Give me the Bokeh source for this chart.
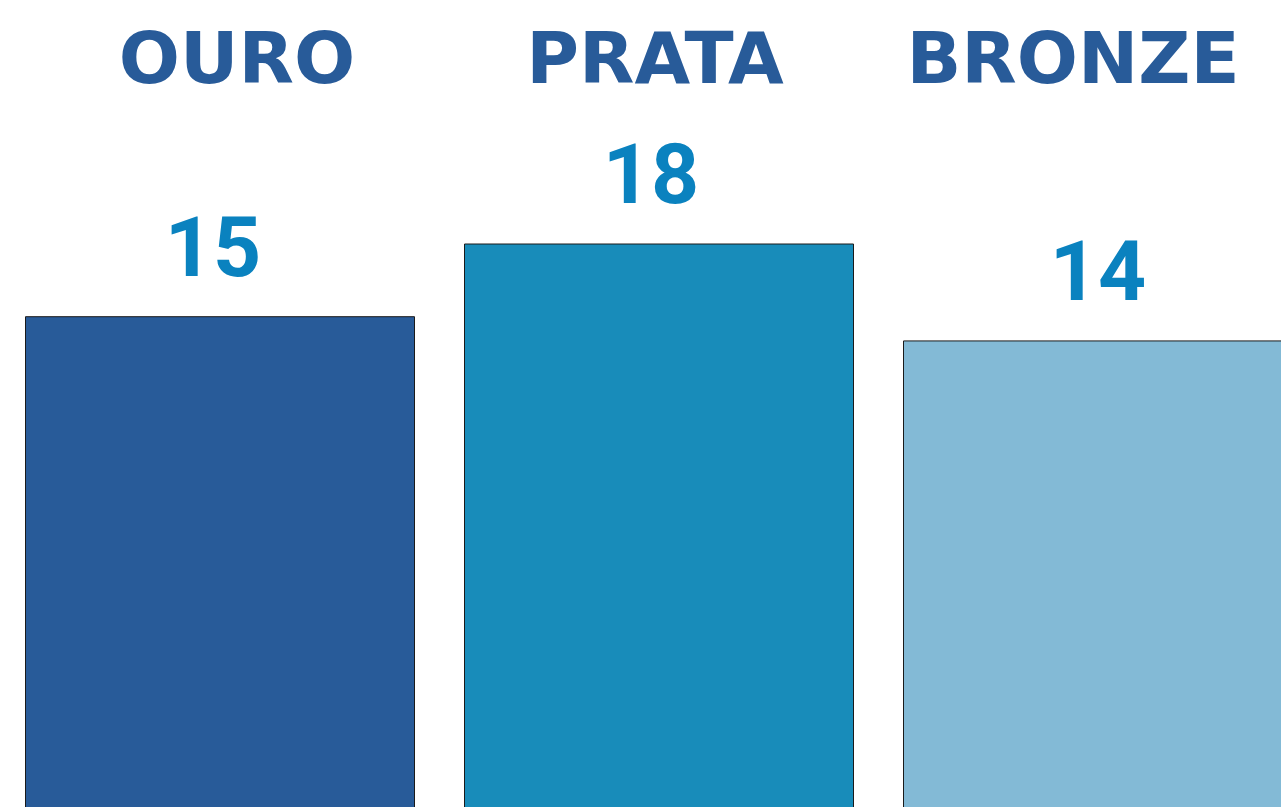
from bokeh.plotting import figure
from bokeh.models import ColumnDataSource, Range1d
from bokeh.core.properties import value
from bokeh.embed import file_html
from bokeh.resources import INLINE

# ---- data ----
categories = ["OURO", "PRATA", "BRONZE"]
medals = [15, 18, 14]

# ---- style ----
bar_colors = ["#285b99", "#188cba", "#83bad6"]
title_color = "#285b99"
value_color = "#0a82bf"
title_nudge_px = [17, -4, -25]
value_nudge_px = [-7, -8, 0]

W, H = 1281, 807
px_x = 439.0
x0 = 219.5
px_y = 24.23
ytop = 28.05

xs = list(range(len(categories)))
src = ColumnDataSource(dict(x=xs, top=medals, cat=categories, color=bar_colors,
                            lbl=[str(v) for v in medals], nudge=title_nudge_px,
                            vnudge=value_nudge_px))

p = figure(width=W, height=H, output_backend="svg", toolbar_location=None,
           x_range=Range1d(-x0 / px_x, (W - x0) / px_x),
           y_range=Range1d(ytop - H / px_y, ytop),
           min_border=0, outline_line_color=None)
p.axis.visible = False
p.xgrid.visible = False
p.ygrid.visible = False
p.background_fill_color = "white"
p.border_fill_color = "white"

bottom = ytop - H / px_y - 2
p.vbar(x="x", top="top", bottom=bottom, width=389 / px_x, source=src,
       fill_color="color", line_color="#1a1a1a", line_width=1)

p.text(x="x", y="top", text="lbl", source=src, text_align="center",
       text_baseline="middle", y_offset=-71, x_offset="vnudge",
       text_font=value("Roboto"), text_font_style="bold",
       text_font_size="84px", text_color=value_color)

title_y = ytop - 57.5 / px_y
p.text(x="x", y=title_y, text="cat", source=src, text_align="center",
       text_baseline="middle", x_offset="nudge",
       text_font=value("DejaVu Sans"), text_font_style="bold",
       text_font_size="72px", text_color=title_color)

open("out.html", "w").write(file_html(p, INLINE))
